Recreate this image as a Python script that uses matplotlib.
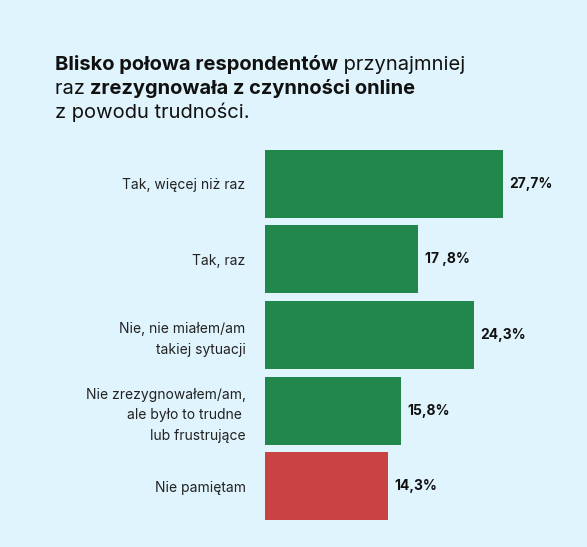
import matplotlib
matplotlib.use("Agg")
import matplotlib.pyplot as plt

categories = ["Tak, więcej niż raz", "Tak, raz", "Nie, nie miałem/am\ntakiej sytuacji",
              "Nie zrezygnowałem/am,\nale było to trudne \nlub frustrujące", "Nie pamiętam"]
values = [27.7, 17.8, 24.3, 15.8, 14.3]
value_labels = ["27,7%", "17 ,8%", "24,3%", "15,8%", "14,3%"]
colors = ["#22874c", "#22874c", "#22874c", "#22874c", "#c94343"]

bg = "#e0f4fd"
plt.rcParams['font.family'] = ['Inter', 'DejaVu Sans']
fig = plt.figure(figsize=(5.87, 5.47), dpi=100, facecolor=bg)
W, H = 587, 547
ax = fig.add_axes([265/W, 1-524/H, (W-265)/W, 378/H])
ax.set_facecolor(bg)
ax.barh(range(len(values)), values, height=0.9, color=colors, left=0)
ax.set_ylim(4.5, -0.5)
ax.set_xlim(0, 37.5)
for s in ax.spines.values():
    s.set_visible(False)
ax.set_xticks([])
ax.set_yticks(range(len(values)))
ax.set_yticklabels(categories, fontsize=10, color="#222222", linespacing=1.6)
ax.tick_params(axis='y', length=0, pad=14)
for i, (v, l) in enumerate(zip(values, value_labels)):
    ax.text(v + 0.8, i, l, va='center', ha='left', fontsize=10, fontweight='bold', color="#111111")

fs = 14.5
def run(parts, x, y):
    t = fig.text(x/W, 1-y/H, parts[0][0], fontsize=fs, fontweight=parts[0][1], color="#111111", va='baseline')
    for txt, w in parts[1:]:
        t = fig.text(0, 0, txt, fontsize=fs, fontweight=w, color="#111111", va='baseline',
                     transform=matplotlib.transforms.offset_copy(fig.transFigure, fig=fig),
                     ) if False else ax.annotate(txt, xy=(1, 0), xycoords=t, fontsize=fs, fontweight=w,
                                                   color="#111111", va='bottom', ha='left', annotation_clip=False)
    return t
run([("Blisko połowa respondentów", 'bold'), (" przynajmniej", 'normal')], 55, 70)
run([("raz ", 'normal'), ("zrezygnowała z czynności online", 'bold')], 55, 94)
run([("z powodu trudności.", 'normal')], 55, 118)
fig.savefig("out.png", dpi=100, facecolor=bg)
